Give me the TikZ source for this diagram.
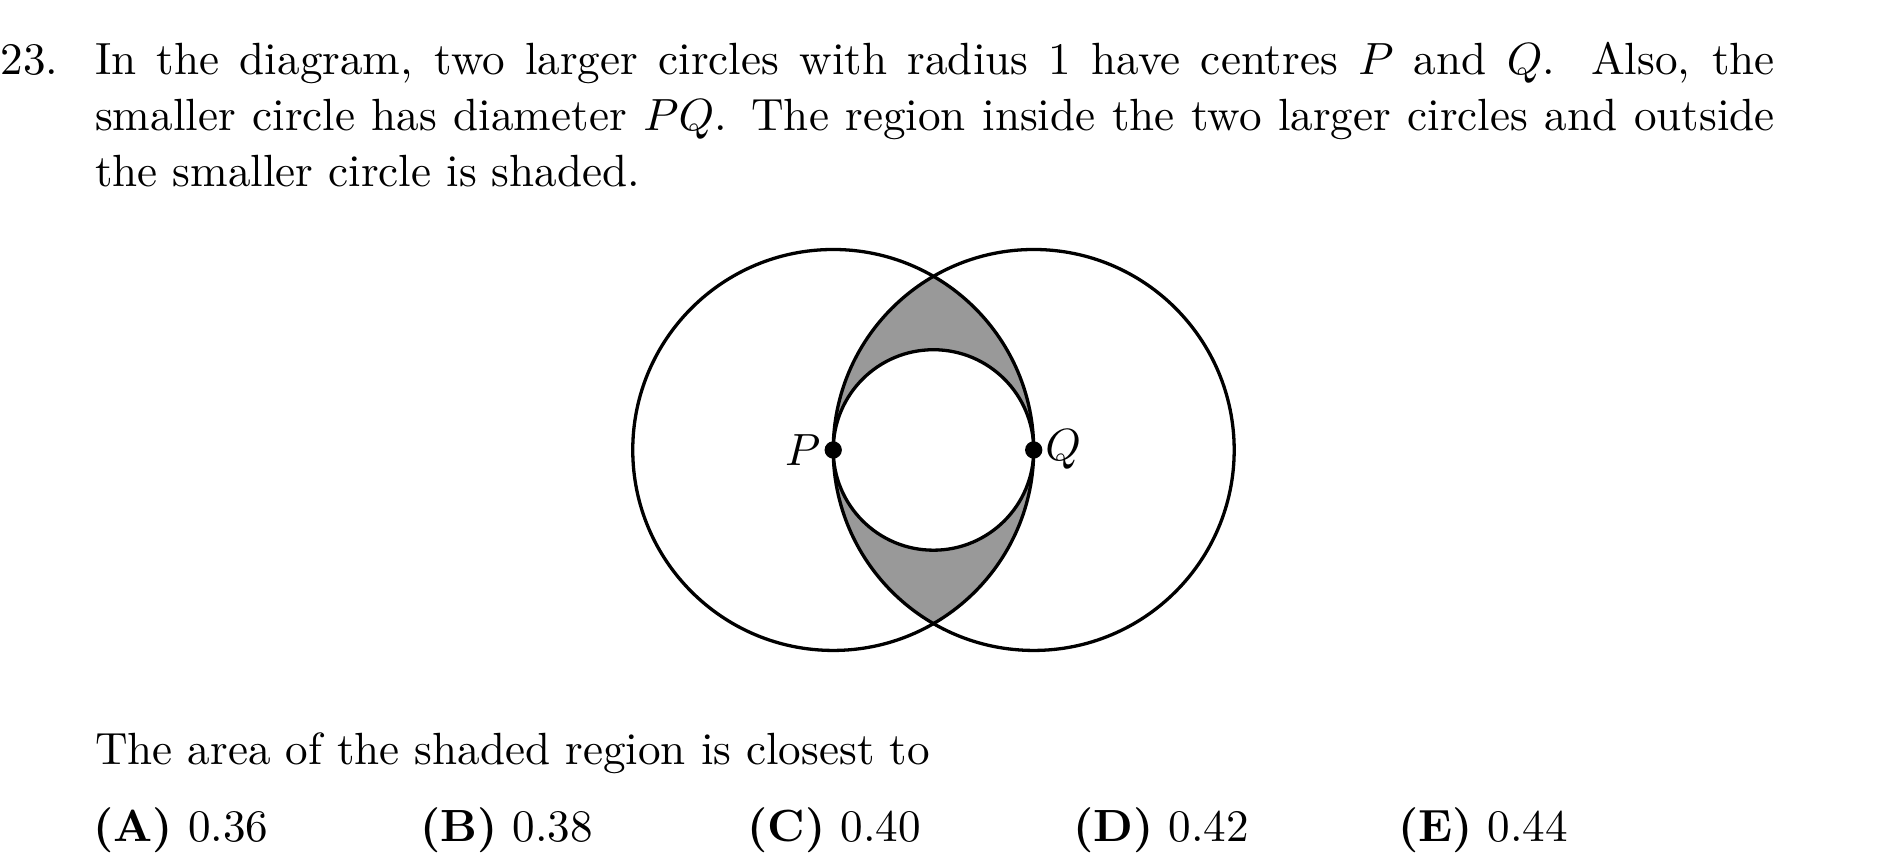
\documentclass[tikz,border=0pt]{standalone}
\usepackage{tikz}
\usetikzlibrary{positioning}

\begin{document}
\begin{tikzpicture}[
  every node/.style={font=\fontsize{10.95}{13.6}\selectfont, inner sep=0pt},
  ring/.style={thick},
  lens/.style={fill=black!40},
  dot/.style={circle, fill=black, minimum size=4.2pt, inner sep=0pt},
  choice/.style={anchor=base west}
]
\useasboundingbox (0,0) rectangle (16.24,7.396);
\coordinate (P) at (7.107,3.558);
\coordinate (Q) at (8.817,3.558);
\coordinate (M) at (7.962,3.558);
\begin{scope}
  \clip (P) circle (1.71);
  \fill[lens, even odd rule] (Q) circle (1.71) (M) circle (0.855);
\end{scope}
\draw[ring] (P) circle (1.71);
\draw[ring] (Q) circle (1.71);
\draw[ring] (M) circle (0.855);
\node[dot] (dotP) at (P) {};
\node[dot] (dotQ) at (Q) {};
\node[left=0.6pt of dotP] (labP) {$P$};
\node[right=0.3pt of dotQ] (labQ) {$Q$};
\node[anchor=base west] (num) at (0,6.762) {23.};
\node[anchor=base west, text width=407.6pt, align=justify] (stem) at (0.805,6.762)
  {In the diagram, two larger circles with radius 1 have centres $P$ and $Q$.  Also, the\linebreak
   smaller circle has diameter $PQ$. The region inside the two larger circles and outside\linebreak
   the smaller circle is shaded.};
\node[anchor=base west] (ask) at (0.805,0.872) {The area of the shaded region is closest to};
\foreach \lab/\val/\x in {A/0.36/0.79, B/0.38/3.58, C/0.40/6.37, D/0.42/9.15, E/0.44/11.92}
  \node[choice] (ans\lab) at (\x,0.222) {\textbf{(\lab)} \val};
\end{tikzpicture}
\end{document}
